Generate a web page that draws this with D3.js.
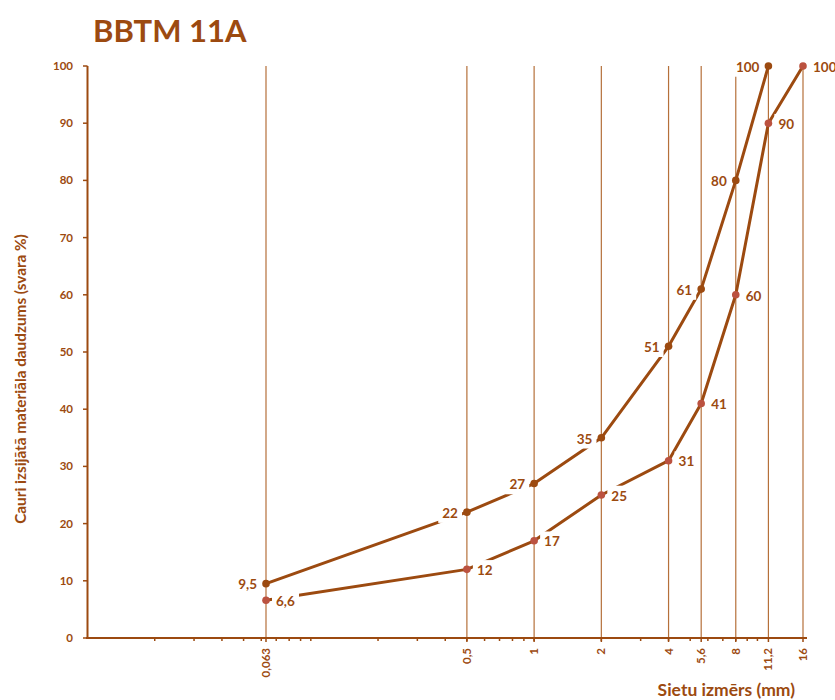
<!DOCTYPE html>
<html>
<head>
<meta charset="utf-8">
<script src="https://cdn.jsdelivr.net/npm/d3@7"></script>
<style>
  body { margin: 0; background: #fff; }
  text { font-family: Lato, "Open Sans", sans-serif; font-weight: bold; fill: #9c4a10; }
</style>
</head>
<body>
<script>
// sieve sizes (mm) and passing percentages
const sieves = [0.063, 0.5, 1, 2, 4, 5.6, 8, 11.2, 16];
const sieveLabels = ["0,063", "0,5", "1", "2", "4", "5,6", "8", "11,2", "16"];
const upperX = [0.063, 0.5, 1, 2, 4, 5.6, 8, 11.2];
const upperY = [9.5, 22, 27, 35, 51, 61, 80, 100];
const lowerX = [0.063, 0.5, 1, 2, 4, 5.6, 8, 11.2, 16];
const lowerY = [6.6, 12, 17, 25, 31, 41, 60, 90, 100];
const yTicks = [0, 10, 20, 30, 40, 50, 60, 70, 80, 90, 100];

const brown = "#9c4a10";
const grid = "#b5703a";
const redDot = "#bb5240";

const width = 835, height = 700;
const svg = d3.select("body").append("svg")
  .attr("width", width)
  .attr("height", height);

const x = d3.scaleLog().domain([0.01, 16]).range([87.5, 803]);
const y = d3.scaleLinear().domain([0, 100]).range([638, 66]);

const fmt = v => String(v).replace(".", ",");

// title
svg.append("text")
  .attr("x", 93).attr("y", 42)
  .style("font-size", "31px")
  .text("BBTM 11A");

// vertical gridlines at sieve sizes
svg.append("g").selectAll("line")
  .data(sieves)
  .enter().append("line")
  .attr("x1", d => x(d)).attr("x2", d => x(d))
  .attr("y1", y(100)).attr("y2", y(0))
  .attr("stroke", grid)
  .attr("stroke-width", 1.2);

// minor log ticks on x axis
const minor = x.ticks().filter(d => d > 0.01 && d < 16);
svg.append("g").selectAll("line")
  .data(minor)
  .enter().append("line")
  .attr("x1", d => x(d)).attr("x2", d => x(d))
  .attr("y1", y(0)).attr("y2", y(0) + 3)
  .attr("stroke", brown).attr("stroke-width", 1.5);

// x axis line + major ticks
svg.append("line")
  .attr("x1", 86).attr("x2", x(16) + 4)
  .attr("y1", y(0)).attr("y2", y(0))
  .attr("stroke", brown).attr("stroke-width", 2);
svg.append("g").selectAll("line")
  .data(sieves)
  .enter().append("line")
  .attr("x1", d => x(d)).attr("x2", d => x(d))
  .attr("y1", y(0)).attr("y2", y(0) + 4)
  .attr("stroke", brown).attr("stroke-width", 1.5);

// x tick labels, rotated
svg.append("g").selectAll("text")
  .data(sieves)
  .enter().append("text")
  .attr("transform", d => `translate(${x(d) + 4},648) rotate(-90)`)
  .attr("text-anchor", "end")
  .style("font-size", "11.5px")
  .text((d, i) => sieveLabels[i]);

// y axis
svg.append("line")
  .attr("x1", 87.5).attr("x2", 87.5)
  .attr("y1", y(100)).attr("y2", y(0) + 1)
  .attr("stroke", brown).attr("stroke-width", 2);
svg.append("g").selectAll("line")
  .data(yTicks)
  .enter().append("line")
  .attr("x1", 83).attr("x2", 87.5)
  .attr("y1", d => y(d)).attr("y2", d => y(d))
  .attr("stroke", brown).attr("stroke-width", 1.5);
svg.append("g").selectAll("text")
  .data(yTicks)
  .enter().append("text")
  .attr("x", 73)
  .attr("y", d => y(d))
  .attr("dy", "0.35em")
  .attr("text-anchor", "end")
  .style("font-size", "11.5px")
  .text(d => d);

// axis titles
svg.append("text")
  .attr("transform", "translate(26,379) rotate(-90)")
  .attr("text-anchor", "middle")
  .style("font-size", "15.3px")
  .text("Cauri izsijātā materiāla daudzums (svara %)");
svg.append("text")
  .attr("x", 795).attr("y", 696)
  .attr("text-anchor", "end")
  .style("font-size", "17.5px")
  .text("Sietu izmērs (mm)");

// series
const upper = upperX.map((d, i) => [d, upperY[i]]);
const lower = lowerX.map((d, i) => [d, lowerY[i]]);
const line = d3.line().x(d => x(d[0])).y(d => y(d[1]));

[upper, lower].forEach(s => {
  svg.append("path")
    .datum(s)
    .attr("d", line)
    .attr("fill", "none")
    .attr("stroke", brown)
    .attr("stroke-width", 3)
    .attr("stroke-linejoin", "round");
});

svg.append("g").selectAll("circle")
  .data(upper)
  .enter().append("circle")
  .attr("cx", d => x(d[0])).attr("cy", d => y(d[1]))
  .attr("r", 3.8).attr("fill", brown);
svg.append("g").selectAll("circle")
  .data(lower)
  .enter().append("circle")
  .attr("cx", d => x(d[0])).attr("cy", d => y(d[1]))
  .attr("r", 3.8).attr("fill", redDot);

// data labels with white boxes
function addLabels(data, side) {
  const g = svg.append("g");
  data.forEach(d => {
    const lg = g.append("g");
    const t = lg.append("text")
      .attr("x", x(d[0]) + (side === "left" ? -9 : 10))
      .attr("y", y(d[1]) + 1)
      .attr("dy", "0.35em")
      .attr("text-anchor", side === "left" ? "end" : "start")
      .style("font-size", "13.5px")
      .text(fmt(d[1]));
    const b = t.node().getBBox();
    lg.insert("rect", "text")
      .attr("x", b.x - 4).attr("y", b.y - 2)
      .attr("width", b.width + 8).attr("height", b.height + 4)
      .attr("fill", "#fff");
  });
}
addLabels(upper, "left");
addLabels(lower, "right");
</script>
</body>
</html>
